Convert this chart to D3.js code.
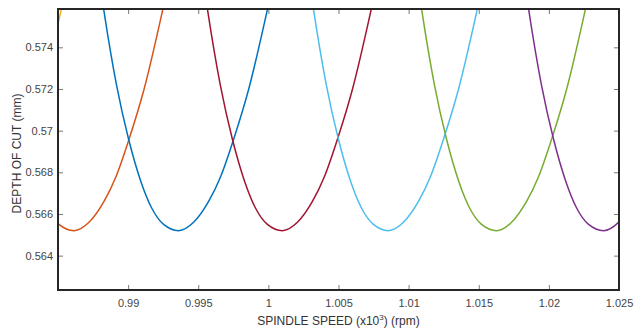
<!DOCTYPE html>
<html>
<head>
<meta charset="utf-8">
<script src="https://cdn.jsdelivr.net/npm/d3@7"></script>
<style>
  html, body { margin: 0; padding: 0; background: #ffffff; }
  svg { display: block; }
  text { font-family: "Liberation Sans", Arial, Helvetica, sans-serif; }
</style>
</head>
<body>
<svg id="chart" width="642" height="330"></svg>
<script>
// ---- data ----
const xTicks = [0.99, 0.995, 1, 1.005, 1.01, 1.015, 1.02, 1.025];
const xTickLabels = ["0.99", "0.995", "1", "1.005", "1.01", "1.015", "1.02", "1.025"];
const yTicks = [0.564, 0.566, 0.568, 0.57, 0.572, 0.574];
const yTickLabels = ["0.564", "0.566", "0.568", "0.57", "0.572", "0.574"];
const xDomain = [0.985, 1.025];
const yDomain = [0.56235, 0.57584];

// depth of cut (mm) at each sampled point along a lobe (shared shape)
const lobeDepth = [0.5775, 0.5759, 0.5722, 0.5696, 0.5676, 0.5663, 0.5655, 0.5652,
                   0.5656, 0.5666, 0.5678, 0.5696, 0.5720, 0.5759, 0.5772];
// spindle speed (x10^3 rpm) at those points, one array per lobe
const speedYellow = [0.97319, 0.97354, 0.97447, 0.97533, 0.97619, 0.97697, 0.97783, 0.9789,
                     0.97997, 0.98104, 0.9819, 0.98283, 0.9839, 0.98526, 0.98569];
const speedOrange = [0.98043, 0.98078, 0.98171, 0.98257, 0.98343, 0.98421, 0.98507, 0.98614,
                     0.98721, 0.98828, 0.98914, 0.99007, 0.99114, 0.9925, 0.99293];
const speedBlue = [0.98789, 0.98824, 0.98917, 0.99003, 0.99089, 0.99167, 0.99253, 0.9936,
                   0.99467, 0.99574, 0.9966, 0.99753, 0.9986, 0.99996, 1.00039];
const speedRed = [0.99529, 0.99564, 0.99657, 0.99743, 0.99829, 0.99907, 0.99993, 1.0010,
                  1.00207, 1.00314, 1.004, 1.00493, 1.006, 1.00736, 1.00779];
const speedCyan = [1.00285, 1.0032, 1.00413, 1.00499, 1.00585, 1.00663, 1.00749, 1.00856,
                   1.00963, 1.0107, 1.01156, 1.01249, 1.01356, 1.01492, 1.01535];
const speedGreen = [1.01056, 1.01091, 1.01184, 1.0127, 1.01356, 1.01434, 1.0152, 1.01627,
                    1.01734, 1.01841, 1.01927, 1.0202, 1.02127, 1.02263, 1.02306];
const speedPurple = [1.01819, 1.01854, 1.01947, 1.02033, 1.02119, 1.02197, 1.02283, 1.0239,
                     1.02497, 1.02604, 1.0269, 1.02783, 1.0289, 1.03026, 1.03069];

const lobeNames = ["yellow", "orange", "blue", "red", "cyan", "green", "purple"];
const lobeSpeeds = [speedYellow, speedOrange, speedBlue, speedRed, speedCyan, speedGreen, speedPurple];
const lobeColors = ["#EDB120", "#D95319", "#0072BD", "#A2142F", "#4DBEEE", "#77AC30", "#7E2F8E"];

// ---- layout ----
const margin = { left: 58, top: 9, right: 23, bottom: 40 };
const W = 642, H = 330;
const pw = W - margin.left - margin.right;
const ph = H - margin.top - margin.bottom;

const svg = d3.select("#chart");
const g = svg.append("g").attr("transform", `translate(${margin.left},${margin.top})`);

const x = d3.scaleLinear().domain(xDomain).range([0, pw]);
const y = d3.scaleLinear().domain(yDomain).range([ph, 0]);

svg.append("defs").append("clipPath").attr("id", "clip")
  .append("rect").attr("x", 0).attr("y", 0).attr("width", pw).attr("height", ph);

// ---- curves ----
const line = d3.line()
  .x(d => x(d[0])).y(d => y(d[1]))
  .curve(d3.curveMonotoneX);

const lobes = lobeSpeeds.map((sp, i) => ({
  name: lobeNames[i], color: lobeColors[i],
  pts: sp.map((s, j) => [s, lobeDepth[j]])
}));

g.append("g").attr("clip-path", "url(#clip)")
  .selectAll("path").data(lobes).join("path")
  .attr("d", d => line(d.pts))
  .attr("fill", "none")
  .attr("stroke", d => d.color)
  .attr("stroke-width", 1.5);

// ---- axes ----
const tickColor = "#555";
const labelColor = "#444";
const xAxisB = d3.axisBottom(x).tickValues(xTicks).tickSizeInner(-5).tickSizeOuter(0)
  .tickFormat((d, i) => xTickLabels[i]).tickPadding(9);
const xAxisT = d3.axisTop(x).tickValues(xTicks).tickSizeInner(-5).tickSizeOuter(0).tickFormat("");
const yAxisL = d3.axisLeft(y).tickValues(yTicks).tickSizeInner(-5).tickSizeOuter(0)
  .tickFormat((d, i) => yTickLabels[i]).tickPadding(5);
const yAxisR = d3.axisRight(y).tickValues(yTicks).tickSizeInner(-5).tickSizeOuter(0).tickFormat("");

function styleAxis(sel) {
  sel.select(".domain").remove();
  sel.selectAll(".tick line").attr("stroke", tickColor).attr("stroke-width", 0.8);
  sel.selectAll(".tick text").attr("fill", labelColor)
    .style("font-size", "11px").style("font-family", "'Liberation Sans', Arial, sans-serif");
}

g.append("g").attr("transform", `translate(0,${ph})`).call(xAxisB).call(styleAxis);
g.append("g").call(xAxisT).call(styleAxis);
g.append("g").call(yAxisL).call(styleAxis);
g.append("g").attr("transform", `translate(${pw},0)`).call(yAxisR).call(styleAxis);

// box
g.append("rect").attr("x", 0).attr("y", 0).attr("width", pw).attr("height", ph)
  .attr("fill", "none").attr("stroke", "#262626").attr("stroke-width", 2);

// ---- axis titles ----
const xt = svg.append("text")
  .attr("x", margin.left + pw / 2).attr("y", 325)
  .attr("text-anchor", "middle").attr("fill", "#333")
  .style("font-size", "12px");
xt.append("tspan").text("SPINDLE SPEED (x10");
xt.append("tspan").attr("dy", -5).style("font-size", "8px").text("3");
xt.append("tspan").attr("dy", 5).text(") (rpm)");

svg.append("text")
  .attr("transform", `translate(21,${margin.top + ph / 2 + 4}) rotate(-90)`)
  .attr("text-anchor", "middle").attr("fill", "#333")
  .style("font-size", "12px")
  .text("DEPTH OF CUT (mm)");
</script>
</body>
</html>
